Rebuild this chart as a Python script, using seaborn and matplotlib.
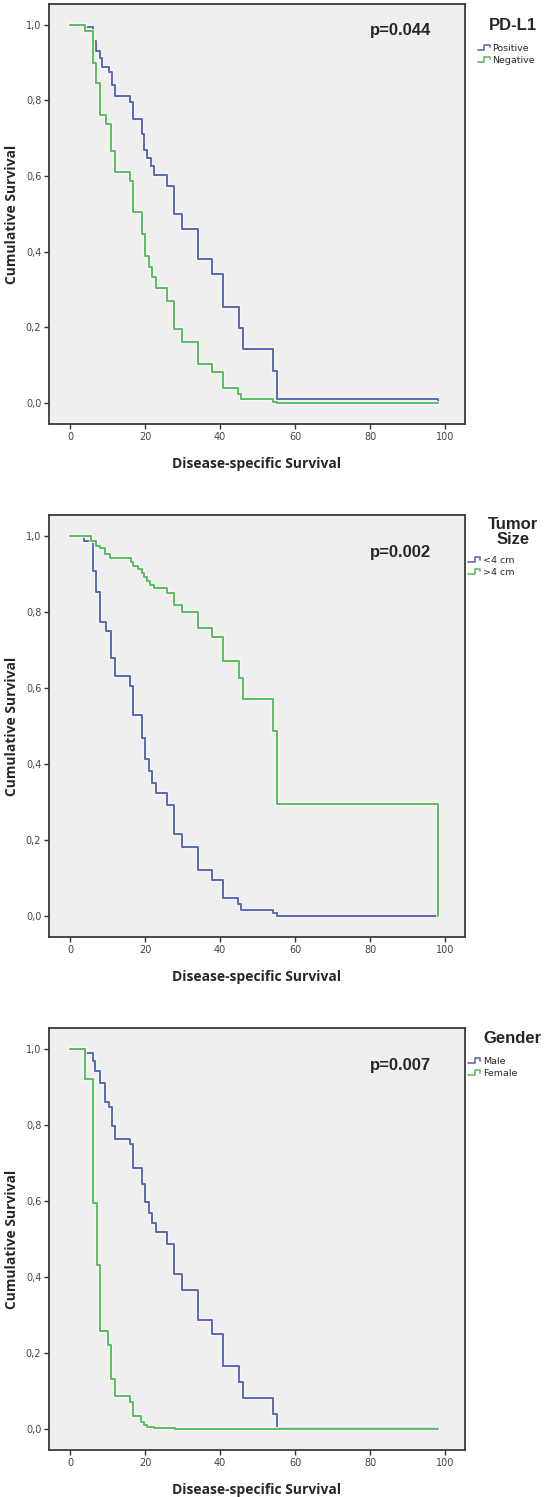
import numpy as np
import pandas as pd
import matplotlib
matplotlib.use("Agg")
import matplotlib.pyplot as plt
import matplotlib.patheffects as pe
from matplotlib.lines import Line2D
from matplotlib.legend_handler import HandlerBase
import seaborn as sns

# -------------data-------------

x_ticks = [0, 20, 40, 60, 80, 100]
y_ticks = [0.0, 0.2, 0.4, 0.6, 0.8, 1.0]
y_tick_labels = ["0,0", "0,2", "0,4", "0,6", "0,8", "1,0"]

# PD-L1
pdl1_groups = ["Positive", "Negative"]
pdl1_pos_time = [0, 3.9, 6.2, 6.9, 7.9, 8.6, 10.4, 11.1, 11.9, 16.0, 16.7, 19.1, 19.6, 20.5, 21.6, 22.5,
                 25.8, 27.7, 29.9, 34.1, 37.8, 40.9, 45.0, 46.0, 54.0, 55.1, 98, 98]
pdl1_pos_surv = [1.0, 0.995, 0.957, 0.931, 0.911, 0.889, 0.876, 0.841, 0.812, 0.797, 0.751, 0.711, 0.668, 0.648,
                 0.626, 0.602, 0.575, 0.501, 0.461, 0.382, 0.341, 0.253, 0.198, 0.143, 0.084, 0.012, 0.012, 0.0]
pdl1_neg_time = [0, 3.9, 6.2, 6.9, 8.1, 9.5, 11.0, 11.9, 16.0, 16.9, 19.1, 19.9, 21.0, 21.8, 22.9, 25.8,
                 27.7, 29.9, 34.1, 37.8, 40.9, 44.8, 45.7, 54.0, 55.1, 98]
pdl1_neg_surv = [1.0, 0.984, 0.900, 0.846, 0.761, 0.738, 0.666, 0.611, 0.587, 0.505, 0.447, 0.388, 0.359, 0.332,
                 0.303, 0.271, 0.195, 0.161, 0.104, 0.081, 0.040, 0.023, 0.011, 0.003, 0.0, 0.0]

# Tumor size
size_groups = ["<4 cm", ">4 cm"]
size_small_time = [0, 3.7, 6.0, 6.9, 7.9, 9.7, 11.0, 11.9, 16.0, 16.9, 19.1, 19.9, 21.0, 21.9, 22.9, 25.9,
                   27.7, 29.9, 34.1, 37.8, 40.9, 44.8, 45.7, 54.0, 55.1, 98]
size_small_surv = [1.0, 0.987, 0.908, 0.853, 0.774, 0.750, 0.680, 0.632, 0.604, 0.528, 0.469, 0.412, 0.382,
                   0.351, 0.325, 0.292, 0.217, 0.182, 0.120, 0.094, 0.048, 0.031, 0.016, 0.007, 0.0, 0.0]
size_large_time = [0, 5.7, 6.9, 7.9, 9.3, 10.7, 16.3, 16.9, 18.2, 19.1, 19.6, 20.5, 21.4, 22.4, 25.9, 27.7,
                   29.9, 34.1, 37.8, 40.9, 45.0, 46.0, 54.0, 55.1, 98, 98]
size_large_surv = [1.0, 0.987, 0.974, 0.967, 0.952, 0.943, 0.930, 0.921, 0.912, 0.902, 0.891, 0.882, 0.870,
                   0.864, 0.851, 0.818, 0.800, 0.759, 0.734, 0.671, 0.627, 0.572, 0.487, 0.294, 0.294, 0.0]

# Gender
gender_groups = ["Male", "Female"]
male_time = [0, 3.9, 6.0, 6.7, 7.9, 9.3, 10.4, 11.1, 11.9, 16.0, 16.9, 19.1, 19.9, 21.0, 21.9, 22.9, 25.9,
             27.7, 29.9, 34.1, 37.8, 40.9, 45.0, 46.0, 54.0, 55.1, 98]
male_surv = [1.0, 0.99, 0.968, 0.942, 0.910, 0.860, 0.847, 0.797, 0.763, 0.749, 0.686, 0.644, 0.596, 0.569,
             0.543, 0.518, 0.486, 0.407, 0.366, 0.287, 0.249, 0.167, 0.123, 0.081, 0.039, 0.002, 0.002]
female_time = [0, 3.9, 6.0, 7.1, 8.1, 10.2, 11.0, 12.1, 16.0, 16.8, 18.8, 19.8, 20.5, 22.4, 28.0, 98]
female_surv = [1.0, 0.920, 0.594, 0.432, 0.259, 0.221, 0.131, 0.088, 0.070, 0.035, 0.019, 0.011, 0.006,
               0.002, 0.0, 0.0]

p_values = ["p=0.044", "p=0.002", "p=0.007"]
legend_titles = ["PD-L1", "Tumor\nSize", "Gender"]

blue = "#5E6CB4"
green = "#5FBD66"


def make_frame(groups, times, survs):
    parts = []
    for g, t, s in zip(groups, times, survs):
        parts.append(pd.DataFrame({"time": t, "surv": s, "group": g}))
    return pd.concat(parts, ignore_index=True)


panels = [
    make_frame(pdl1_groups, [pdl1_pos_time, pdl1_neg_time], [pdl1_pos_surv, pdl1_neg_surv]),
    make_frame(size_groups, [size_small_time, size_large_time], [size_small_surv, size_large_surv]),
    make_frame(gender_groups, [male_time, female_time], [male_surv, female_surv]),
]
group_lists = [pdl1_groups, size_groups, gender_groups]


class StepHandler(HandlerBase):
    # little step symbol like the SPSS legend
    def create_artists(self, legend, orig_handle, xdescent, ydescent, width, height, fontsize, trans):
        xs = np.array([0, 0.45, 0.45, 0.85, 0.85]) * width - xdescent
        ys = np.array([0.15, 0.15, 0.85, 0.85, 0.5]) * height - ydescent
        return [Line2D(xs, ys, color=orig_handle.get_color(), lw=1.2, transform=trans)]


sns.set_theme(style="ticks", rc={"axes.facecolor": "#EFEFEF"})
plt.rcParams["font.family"] = ["DejaVu Sans"]

fig = plt.figure(figsize=(5.5, 14.97), dpi=100)
# axes boxes in figure fractions
boxes = [(0.0891, 0.7168, 0.7564, 0.2806),
         (0.0891, 0.3741, 0.7564, 0.2819),
         (0.0891, 0.0314, 0.7564, 0.2819)]
p_y = [0.936, 0.91, 0.91]
title_y = [0.948, 0.96, 0.976]
leg_anchor = [(1.03, 0.905), (1.008, 0.903), (1.008, 0.931)]

halo = [pe.Stroke(linewidth=3.0, foreground="white", alpha=0.8), pe.Normal()]

for i in range(3):
    ax = fig.add_axes(boxes[i])
    palette = dict(zip(group_lists[i], [blue, green]))
    sns.lineplot(data=panels[i], x="time", y="surv", hue="group", palette=palette,
                 drawstyle="steps-post", estimator=None, sort=False, legend=False,
                 linewidth=1.5, ax=ax)
    for ln in ax.get_lines():
        ln.set_path_effects(halo)
    ax.set(xlim=(-5.6, 105.3), ylim=(-0.055, 1.055), xticks=x_ticks, yticks=y_ticks)
    ax.set_yticklabels(y_tick_labels)
    ax.tick_params(axis="both", direction="out", length=3.5, width=1.0, color="#333333",
                   labelsize=7, labelcolor="#444444", pad=2)
    for side in ["top", "bottom", "left", "right"]:
        ax.spines[side].set_visible(True)
        ax.spines[side].set_linewidth(1.3)
        ax.spines[side].set_color("#3a3a3a")
    ax.set_xlabel("Disease-specific Survival", fontsize=10, fontweight="bold",
                  family=["Open Sans", "DejaVu Sans"], va="top")
    ax.set_ylabel("Cumulative Survival", fontsize=10, fontweight="bold",
                  family=["Open Sans", "DejaVu Sans"])
    ax.xaxis.set_label_coords(0.5, -0.078)
    ax.yaxis.set_label_coords(-0.072, 0.5)
    ax.text(0.918, p_y[i], p_values[i], transform=ax.transAxes, ha="right", va="center",
            fontsize=12, fontweight="bold", family=["Liberation Sans", "DejaVu Sans"])
    ax.text(1.115, title_y[i], legend_titles[i], transform=ax.transAxes, ha="center", va="center",
            fontsize=12, fontweight="bold", family=["Liberation Sans", "DejaVu Sans"],
            multialignment="center", linespacing=1.0)
    handles = [Line2D([], [], color=blue), Line2D([], [], color=green)]
    ax.legend(handles, group_lists[i], loc="upper left", bbox_to_anchor=leg_anchor[i],
              frameon=False, fontsize=6.8, handlelength=1.5, handletextpad=0.1,
              borderpad=0, borderaxespad=0, labelspacing=0.3,
              handler_map={Line2D: StepHandler()})

fig.savefig("out.png", dpi=100)
